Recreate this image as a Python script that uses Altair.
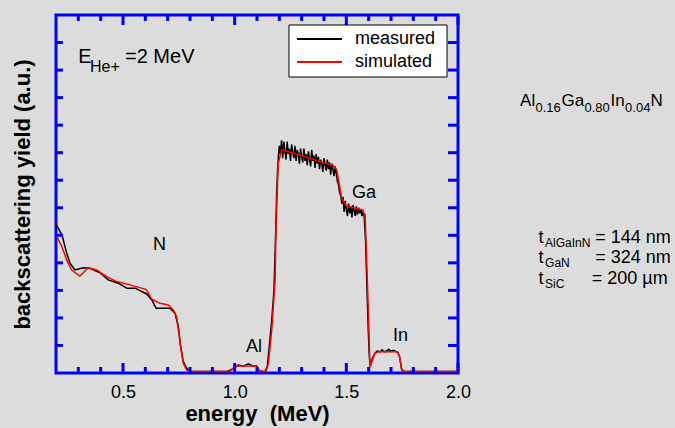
import altair as alt
import pandas as pd

# ---------------- data ----------------
meas_x = [0.200, 0.227, 0.248, 0.263, 0.285, 0.322, 0.352, 0.397, 0.434, 0.479,
          0.517, 0.554, 0.606, 0.629, 0.648, 0.710, 0.733, 0.748, 0.758, 0.770,
          0.785, 0.800, 0.964, 0.987, 1.016, 1.039, 1.061, 1.083, 1.099, 1.110,
          1.136, 1.146, 1.155, 1.166, 1.176, 1.182, 1.188, 1.193, 1.197,
          1.200, 1.205, 1.210, 1.215, 1.220, 1.225, 1.230, 1.235, 1.240, 1.245,
          1.250, 1.255, 1.260, 1.265, 1.270, 1.275, 1.280, 1.285, 1.290, 1.295,
          1.300, 1.305, 1.310, 1.315, 1.320, 1.325, 1.330, 1.335, 1.340, 1.345,
          1.350, 1.355, 1.360, 1.365, 1.370, 1.375, 1.380, 1.385, 1.390, 1.395,
          1.400, 1.405, 1.410, 1.415, 1.420, 1.425, 1.430, 1.435, 1.440, 1.445,
          1.450, 1.455, 1.460, 1.465, 1.470, 1.475, 1.480, 1.485, 1.490, 1.495,
          1.500, 1.505, 1.510, 1.515, 1.520, 1.525, 1.530, 1.535, 1.540, 1.545,
          1.550, 1.555, 1.560, 1.565, 1.570, 1.575,
          1.580, 1.586, 1.592, 1.598, 1.603, 1.607, 1.615, 1.628, 1.640, 1.650,
          1.660, 1.670, 1.680, 1.690, 1.700, 1.710, 1.720, 1.730, 1.738, 1.748,
          1.760, 2.000]
meas_y = [5.40, 5.01, 4.35, 3.98, 3.74, 3.82, 3.80, 3.64, 3.38, 3.26,
          3.08, 3.08, 2.87, 2.65, 2.35, 2.35, 2.17, 1.68, 0.96, 0.41,
          0.17, 0.05, 0.05, 0.13, 0.29, 0.25, 0.33, 0.25, 0.25, 0.08,
          0.05, 0.23, 0.95, 1.92, 3.01, 4.60, 6.50, 7.50, 8.00,
          8.25, 7.95, 8.45, 7.80, 8.40, 8.05, 7.75, 8.40, 7.95, 8.15,
          7.70, 8.30, 8.00, 7.80, 8.25, 7.70, 8.10, 7.95, 7.60, 8.15,
          7.85, 7.65, 8.15, 7.70, 7.95, 7.55, 8.05, 7.80, 7.50, 8.10,
          7.70, 7.90, 7.45, 7.95, 7.60, 7.85, 7.40, 7.75, 7.60, 7.30,
          7.80, 7.55, 7.35, 7.75, 7.40, 7.65, 7.20, 7.60, 7.40, 7.15,
          7.50, 7.25, 6.95, 6.85, 6.55, 6.45, 6.15, 6.40, 5.85, 6.25,
          5.95, 5.70, 6.15, 5.80, 6.05, 5.65, 6.10, 5.90, 5.70, 6.05,
          5.75, 6.00, 5.80, 5.95, 5.70, 5.85,
          5.70, 4.80, 3.20, 1.60, 0.60, 0.25, 0.50, 0.72, 0.80, 0.76,
          0.84, 0.77, 0.80, 0.86, 0.78, 0.82, 0.79, 0.75, 0.60, 0.12,
          0.05, 0.05]

sim_x = [0.200, 0.226, 0.248, 0.270, 0.307, 0.345, 0.382, 0.427, 0.472, 0.531,
         0.603, 0.629, 0.666, 0.703, 0.725, 0.740, 0.748, 0.760, 0.770, 0.785,
         0.800, 0.975, 1.009, 1.099, 1.113, 1.140, 1.151, 1.166, 1.181, 1.185,
         1.195, 1.211, 1.225, 1.442, 1.457, 1.479, 1.499, 1.569, 1.584, 1.594,
         1.606, 1.628, 1.643, 1.726, 1.737, 1.748, 1.755, 2.000]
sim_y = [5.02, 4.59, 4.10, 3.74, 3.52, 3.82, 3.74, 3.50, 3.32, 3.20,
         3.04, 2.68, 2.53, 2.47, 2.29, 2.04, 1.56, 0.84, 0.35, 0.11,
         0.05, 0.05, 0.25, 0.25, 0.05, 0.05, 0.35, 1.56, 3.38, 5.19,
         7.61, 8.10, 8.08, 7.53, 7.38, 6.35, 6.07, 5.93, 5.75, 3.38,
         0.23, 0.72, 0.77, 0.77, 0.65, 0.11, 0.05, 0.05]

series_names = ["measured", "simulated"]
series_colors = ["#000000", "#ff0000"]

x_label_values = [0.5, 1.0, 1.5, 2.0]
x_minor = [0.3, 0.4, 0.6, 0.7, 0.8, 0.9, 1.1, 1.2, 1.3, 1.4, 1.6, 1.7, 1.8, 1.9]
y_tick_values = [1, 2, 3, 4, 5, 6, 7, 8, 9, 10, 11, 12]

ann_text = ["E", "He+", "=2 MeV", "N", "Al", "Ga", "In",
            "Al", "0.16", "Ga", "0.80", "In", "0.04", "N",
            "t", "AlGaInN", "= 144 nm",
            "t", "GaN", "= 324 nm",
            "t", "SiC", "= 200 µm"]
ann_x = [0.300, 0.352, 0.509, 0.634, 1.051, 1.525, 1.709,
         2.278, 2.347, 2.463, 2.566, 2.683, 2.748, 2.862,
         2.360, 2.390, 2.614,
         2.360, 2.390, 2.614,
         2.360, 2.390, 2.599]
ann_y = [11.245, 10.94, 11.245, 4.47, 0.76, 6.35, 1.16,
         9.706, 9.488, 9.706, 9.488, 9.706, 9.488, 9.706,
         4.709, 4.564, 4.709,
         3.983, 3.838, 3.983,
         3.232, 3.086, 3.232]
ann_size = [20, 16, 20, 18, 18, 18, 18,
            17, 13, 17, 13, 17, 13, 17,
            18, 12, 18,
            18, 12, 18,
            18, 12, 18]

# ---------------- tables ----------------
df = pd.concat([
    pd.DataFrame({"energy": meas_x, "yield": meas_y, "series": series_names[0]}),
    pd.DataFrame({"energy": sim_x, "yield": sim_y, "series": series_names[1]}),
], ignore_index=True)
ann = pd.DataFrame({"text": ann_text, "energy": ann_x, "yield": ann_y, "size": ann_size})
major_df = pd.DataFrame({"energy": x_label_values})
minor_df = pd.DataFrame({"energy": x_minor})
ytick_df = pd.DataFrame({"yield": y_tick_values})

FONT = "Liberation Sans"
BLUE = "#0000ff"
W, H = 402, 358

xscale = alt.Scale(domain=[0.2, 2.0], nice=False, zero=False)
yscale = alt.Scale(domain=[0, 13], nice=False, zero=False)

xaxis = alt.Axis(values=x_label_values, format=".1f", ticks=False, domain=False,
                 grid=False, labelFontSize=18, labelFont=FONT, labelColor="#000000",
                 labelFlush=False, labelOverlap=False,
                 labelPadding=10, title="energy\u00a0 (MeV)", titleFont=FONT,
                 titleFontSize=22, titleFontWeight="bold", titleColor="#000000",
                 titlePadding=2)
yaxis = alt.Axis(labels=False, ticks=False, domain=False, grid=False,
                 title="backscattering yield (a.u.)", titleFont=FONT,
                 titleFontSize=22, titleFontWeight="bold", titleColor="#000000",
                 titlePadding=22)

X = lambda: alt.X("energy:Q", scale=xscale, axis=xaxis, title="energy\u00a0 (MeV)")
Y = lambda: alt.Y("yield:Q", scale=yscale, axis=yaxis, title="backscattering yield (a.u.)")

lines = alt.Chart(df).mark_line(strokeWidth=1.5, clip=True).encode(
    x=X(), y=Y(),
    color=alt.Color("series:N",
                    scale=alt.Scale(domain=series_names, range=series_colors),
                    legend=None),
)

tick_bottom_major = alt.Chart(major_df).mark_rule(color=BLUE, strokeWidth=3).encode(
    x=X(), y=alt.value(H), y2=alt.value(H - 10))
tick_bottom_minor = alt.Chart(minor_df).mark_rule(color=BLUE, strokeWidth=3).encode(
    x=X(), y=alt.value(H), y2=alt.value(H - 6))
tick_top_major = alt.Chart(major_df).mark_rule(color=BLUE, strokeWidth=3).encode(
    x=X(), y=alt.value(0), y2=alt.value(10))
tick_top_minor = alt.Chart(minor_df).mark_rule(color=BLUE, strokeWidth=3).encode(
    x=X(), y=alt.value(0), y2=alt.value(6))
tick_left = alt.Chart(ytick_df).mark_rule(color=BLUE, strokeWidth=3).encode(
    y=Y(), x=alt.value(0), x2=alt.value(7))
tick_right = alt.Chart(ytick_df).mark_rule(color=BLUE, strokeWidth=3).encode(
    y=Y(), x=alt.value(W), x2=alt.value(W - 10))

texts = alt.Chart(ann).mark_text(align="left", baseline="alphabetic", font=FONT,
                                 color="#000000").encode(
    x=X(), y=Y(),
    text="text:N",
    size=alt.Size("size:Q", scale=None, legend=None),
)

# ---- hand-built legend box (inside the plot, top right) ----
leg_df = pd.DataFrame({"series": series_names, "color": series_colors})
leg_box = alt.Chart(leg_df.head(1)).mark_rect(
    fill="#ffffff", stroke="#000000", strokeWidth=1).encode(
    x=alt.value(233), x2=alt.value(391), y=alt.value(10), y2=alt.value(62))
leg_parts = []
for i, (name, col) in enumerate(zip(series_names, series_colors)):
    row = leg_df.iloc[[i]]
    ly = 24 + 23 * i
    leg_parts.append(alt.Chart(row).mark_rule(color=col, strokeWidth=2).encode(
        x=alt.value(241), x2=alt.value(286), y=alt.value(ly)))
    leg_parts.append(alt.Chart(row).mark_text(
        align="left", baseline="middle", font=FONT, fontSize=18, color="#000000").encode(
        x=alt.value(299), y=alt.value(ly), text="series:N"))

chart = alt.layer(
    lines, tick_bottom_major, tick_bottom_minor, tick_top_major, tick_top_minor,
    tick_left, tick_right, texts, leg_box, *leg_parts
).properties(
    width=W, height=H,
    autosize=alt.AutoSizeParams(type="none"),
    padding={"left": 56, "top": 15, "right": 217, "bottom": 55},
    background="#dcdcdc",
).configure_view(
    stroke=BLUE, strokeWidth=3, fill="#dcdcdc"
)

chart.save("out.html", embed_options={"renderer": "svg", "actions": False})
